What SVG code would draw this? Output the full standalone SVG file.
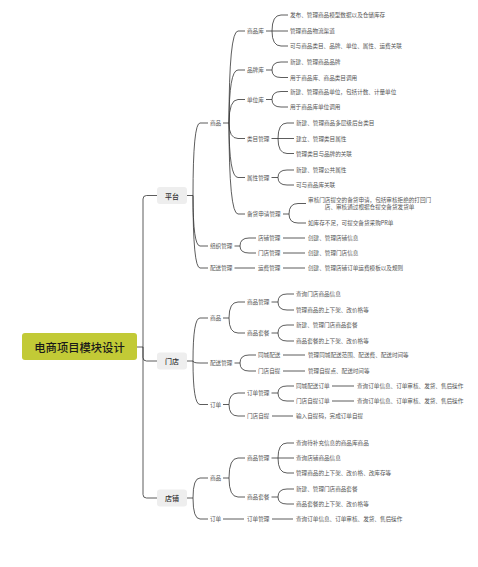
<svg xmlns="http://www.w3.org/2000/svg" width="478" height="567" viewBox="0 0 478 567">
<style>
text{font-family:"Noto Sans CJK SC","Noto Sans",sans-serif;dominant-baseline:central}
.t{font-size:5.6px;fill:#555}
.l1{font-size:7px;fill:#333;text-anchor:middle;font-weight:500}
.root{font-size:11.3px;fill:#1a1a1a;text-anchor:middle;font-weight:500}
.b1{fill:#eeeeee}
#connectors path{fill:none;stroke:#333;stroke-width:0.8}
</style>
<rect width="478" height="567" fill="#fff"/>
<g id="connectors">
<path d="M137,347 H143 M143,347 V199 Q143,195.5 146.5,195.5 H157 M143,347 V357.5 Q143,361 146.5,361 H157 M143,347 V494.5 Q143,498 146.5,498 H157"/>
<!-- 平台 -->
<path d="M187,195.5 H193 M193,195.5 Q193,123 200,123 H208 M193,195.5 Q193,246 200,246 H208 M193,195.5 Q193,268 200,268 H208"/>
<path d="M223,123 H229 M229,123 Q229,31 238,31 H245 M229,123 Q229,70 238,70 H245 M229,123 Q229,99.5 238,99.5 H245 M229,123 Q229,138.5 238,138.5 H245 M229,123 Q229,177.5 238,177.5 H245 M229,123 Q229,214 238,214 H245"/>
<path d="M266,31 H272 M272,31 Q272,15 281,15 H288 M272,31 H288 M272,31 Q272,46 281,46 H288"/>
<path d="M266,70 H272 M272,70 Q272,62 281,62 H288 M272,70 Q272,77.5 281,77.5 H288"/>
<path d="M266,99.5 H272 M272,99.5 Q272,91.5 281,91.5 H288 M272,99.5 Q272,107 281,107 H288"/>
<path d="M271.5,138.5 H278 M278,138.5 Q278,123 287,123 H294 M278,138.5 H294 M278,138.5 Q278,153.5 287,153.5 H294"/>
<path d="M271.5,177.5 H278 M278,177.5 Q278,170 287,170 H294 M278,177.5 Q278,185 287,185 H294"/>
<path d="M283,214 H289 M289,214 Q289,203.5 298,203.5 H306 M289,214 Q289,223 298,223 H306"/>
<path d="M234.5,246 H240 M240,246 Q240,238 249,238 H256 M240,246 Q240,253 249,253 H256"/>
<path d="M283,238 H305 M283,253 H305"/>
<path d="M234.5,268 H255 M283,268 H305"/>
<!-- 门店 -->
<path d="M187,361 H193 M193,361 Q193,318 200,318 H208 M193,361 Q193,363 200,363 H208 M193,361 Q193,404.5 200,404.5 H208"/>
<path d="M223,318 H229 M229,318 Q229,302 238,302 H245 M229,318 Q229,333 238,333 H245"/>
<path d="M271.5,302 H278 M278,302 Q278,294 287,294 H294 M278,302 Q278,310 287,310 H294"/>
<path d="M271.5,333 H278 M278,333 Q278,325 287,325 H294 M278,333 Q278,341 287,341 H294"/>
<path d="M234.5,363 H240 M240,363 Q240,355 249,355 H256 M240,363 Q240,371 249,371 H256"/>
<path d="M283,355 H305 M283,371 H305"/>
<path d="M223,404.5 H229 M229,404.5 Q229,393 238,393 H245 M229,404.5 Q229,416 238,416 H245"/>
<path d="M271.5,393 H278 M278,393 Q278,386 287,386 H294 M278,393 Q278,401 287,401 H294"/>
<path d="M332,386 H354 M332,401 H354"/>
<path d="M272,416 H293"/>
<!-- 店铺 -->
<path d="M187,498 H193 M193,498 Q193,478 200,478 H208 M193,498 Q193,519 200,519 H208"/>
<path d="M223,478 H229 M229,478 Q229,458 238,458 H245 M229,478 Q229,497 238,497 H245"/>
<path d="M271.5,458 H278 M278,458 Q278,443 287,443 H294 M278,458 H294 M278,458 Q278,473 287,473 H294"/>
<path d="M271.5,497 H278 M278,497 Q278,489 287,489 H294 M278,497 Q278,504 287,504 H294"/>
<path d="M223,519 H244 M272,519 H293"/>
</g>

<g id="root"><rect x="22" y="333" width="115" height="27" rx="3" fill="#c2ca36"/><text class="root" x="79.5" y="347">电商项目模块设计</text></g>

<g id="n-pingtai"><rect class="b1" x="157" y="187" width="30" height="17" rx="3"/><text class="l1" x="172" y="195.5">平台</text></g>
<g id="n-mendian"><rect class="b1" x="157" y="352.5" width="30" height="17" rx="3"/><text class="l1" x="172" y="361">门店</text></g>
<g id="n-dianpu"><rect class="b1" x="157" y="489.5" width="30" height="17" rx="3"/><text class="l1" x="172" y="498">店铺</text></g>

<!-- 平台 subtree -->
<g id="p-shangpin"><text class="t" x="210" y="123">商品</text></g>
<g id="p-spk"><text class="t" x="247" y="31">商品库</text></g>
<g id="p-spk-1"><text class="t" x="290" y="15">发布、管理商品模型数据以及仓储库存</text></g>
<g id="p-spk-2"><text class="t" x="290" y="31">管理商品物流渠道</text></g>
<g id="p-spk-3"><text class="t" x="290" y="46">可与商品类目、品牌、单位、属性、运费关联</text></g>
<g id="p-ppk"><text class="t" x="247" y="70">品牌库</text></g>
<g id="p-ppk-1"><text class="t" x="290" y="62">新建、管理商品品牌</text></g>
<g id="p-ppk-2"><text class="t" x="290" y="77.5">用于商品库、商品类目调用</text></g>
<g id="p-dwk"><text class="t" x="247" y="99.5">单位库</text></g>
<g id="p-dwk-1"><text class="t" x="290" y="91.5">新建、管理商品单位，包括计数、计量单位</text></g>
<g id="p-dwk-2"><text class="t" x="290" y="107">用于商品库单位调用</text></g>
<g id="p-lmgl"><text class="t" x="247" y="138.5">类目管理</text></g>
<g id="p-lmgl-1"><text class="t" x="296" y="123">新建、管理商品多层级后台类目</text></g>
<g id="p-lmgl-2"><text class="t" x="296" y="138.5">建立、管理类目属性</text></g>
<g id="p-lmgl-3"><text class="t" x="296" y="153.5">管理类目与品牌的关联</text></g>
<g id="p-sxgl"><text class="t" x="247" y="177.5">属性管理</text></g>
<g id="p-sxgl-1"><text class="t" x="296" y="170">新建、管理公共属性</text></g>
<g id="p-sxgl-2"><text class="t" x="296" y="185">可与商品库关联</text></g>
<g id="p-bhsq"><text class="t" x="247" y="214">备货申请管理</text></g>
<g id="p-bhsq-1"><text class="t" x="369.6" y="200" text-anchor="middle">审核门店提交的备货申请，包括审核拒绝的打回门</text><text class="t" x="369.6" y="207" text-anchor="middle">店、审核通过根据仓提交备货发货单</text></g>
<g id="p-bhsq-2"><text class="t" x="308" y="223">如库存不足，可提交备货采购PR单</text></g>
<g id="p-zzgl"><text class="t" x="210" y="246">组织管理</text></g>
<g id="p-dpgl"><text class="t" x="258" y="238">店铺管理</text></g>
<g id="p-dpgl-1"><text class="t" x="308" y="238">创建、管理店铺信息</text></g>
<g id="p-mdgl"><text class="t" x="258" y="253">门店管理</text></g>
<g id="p-mdgl-1"><text class="t" x="308" y="253">创建、管理门店信息</text></g>
<g id="p-psgl"><text class="t" x="210" y="268">配送管理</text></g>
<g id="p-yfgl"><text class="t" x="258" y="268">运费管理</text></g>
<g id="p-yfgl-1"><text class="t" x="308" y="268">创建、管理店铺订单运费模板以及规则</text></g>

<!-- 门店 subtree -->
<g id="m-shangpin"><text class="t" x="210" y="318">商品</text></g>
<g id="m-spgl"><text class="t" x="247" y="302">商品管理</text></g>
<g id="m-spgl-1"><text class="t" x="296" y="294">查询门店商品信息</text></g>
<g id="m-spgl-2"><text class="t" x="296" y="310">管理商品的上下架、改价格等</text></g>
<g id="m-sptc"><text class="t" x="247" y="333">商品套餐</text></g>
<g id="m-sptc-1"><text class="t" x="296" y="325">新建、管理门店商品套餐</text></g>
<g id="m-sptc-2"><text class="t" x="296" y="341">商品套餐的上下架、改价格等</text></g>
<g id="m-psgl"><text class="t" x="210" y="363">配送管理</text></g>
<g id="m-tcps"><text class="t" x="258" y="355">同城配送</text></g>
<g id="m-tcps-1"><text class="t" x="308" y="355">管理同城配送范围、配送费、配送时间等</text></g>
<g id="m-mdzt"><text class="t" x="258" y="371">门店自提</text></g>
<g id="m-mdzt-1"><text class="t" x="308" y="371">管理自提点、配送时间等</text></g>
<g id="m-dingdan"><text class="t" x="210" y="404.5">订单</text></g>
<g id="m-ddgl"><text class="t" x="247" y="393">订单管理</text></g>
<g id="m-tcpsdd"><text class="t" x="296" y="386">同城配送订单</text></g>
<g id="m-tcpsdd-1"><text class="t" x="357" y="386">查询订单信息、订单审核、发货、售后操作</text></g>
<g id="m-mdztdd"><text class="t" x="296" y="401">门店自提订单</text></g>
<g id="m-mdztdd-1"><text class="t" x="357" y="401">查询订单信息、订单审核、发货、售后操作</text></g>
<g id="m-mdzt2"><text class="t" x="247" y="416">门店自提</text></g>
<g id="m-mdzt2-1"><text class="t" x="296" y="416">输入自提码，完成订单自提</text></g>

<!-- 店铺 subtree -->
<g id="d-shangpin"><text class="t" x="210" y="478">商品</text></g>
<g id="d-spgl"><text class="t" x="247" y="458">商品管理</text></g>
<g id="d-spgl-1"><text class="t" x="296" y="443">查询待补充信息的商品库商品</text></g>
<g id="d-spgl-2"><text class="t" x="296" y="458">查询店铺商品信息</text></g>
<g id="d-spgl-3"><text class="t" x="296" y="473">管理商品的上下架、改价格、改库存等</text></g>
<g id="d-sptc"><text class="t" x="247" y="497">商品套餐</text></g>
<g id="d-sptc-1"><text class="t" x="296" y="489">新建、管理门店商品套餐</text></g>
<g id="d-sptc-2"><text class="t" x="296" y="504">商品套餐的上下架、改价格等</text></g>
<g id="d-dingdan"><text class="t" x="210" y="519">订单</text></g>
<g id="d-ddgl"><text class="t" x="247" y="519">订单管理</text></g>
<g id="d-ddgl-1"><text class="t" x="296" y="519">查询订单信息、订单审核、发货、售后操作</text></g>
</svg>
